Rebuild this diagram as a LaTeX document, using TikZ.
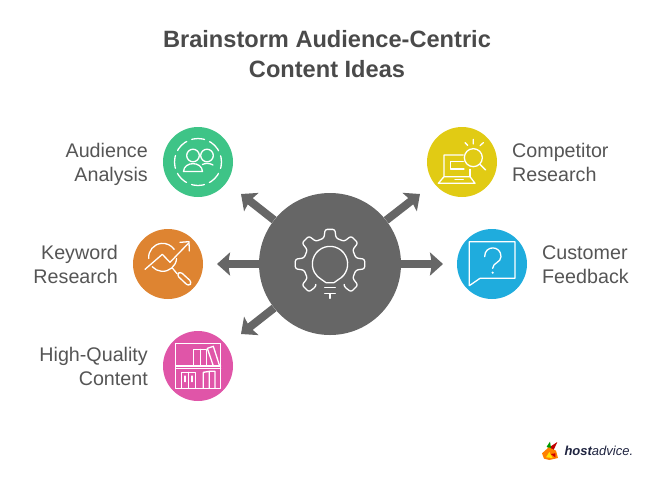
\documentclass[tikz,border=0pt]{standalone}
\usepackage{fontspec}
\setmainfont{Liberation Sans}
\usetikzlibrary{arrows.meta}
\definecolor{hubgray}{HTML}{666666}
\definecolor{titlegray}{HTML}{4A4A4A}
\definecolor{labelgray}{HTML}{555555}
\definecolor{cgreen}{HTML}{3EC487}
\definecolor{corange}{HTML}{DE8431}
\definecolor{cpink}{HTML}{E055A8}
\definecolor{cyellow}{HTML}{E1CB14}
\definecolor{cblue}{HTML}{1FACDD}
\definecolor{logonavy}{HTML}{1F2440}
\tikzset{
  disc/.style={circle,minimum size=70pt,inner sep=0pt,fill=#1},
  hubdisc/.style={circle,minimum size=142pt,inner sep=0pt,fill=hubgray},
  spoke/.style={draw=hubgray,line width=8pt,-{Stealth[length=13pt,width=23pt,inset=2pt]}},
  lbl/.style={font=\fontsize{19.7}{24}\selectfont,text=labelgray,inner sep=0pt},
  ttl/.style={font=\fontsize{23.6}{30}\selectfont\bfseries,text=titlegray,align=center,inner sep=0pt},
  icon/.style={draw=white,line width=1.3pt,line join=round,line cap=round},
  zoomed/.style={x=0.3333pt,y=-0.3333pt},
}
\begin{document}
\begin{tikzpicture}[x=1pt,y=-1pt]
\useasboundingbox (0,0) rectangle (672,483);
\node[ttl] (title) at (327,54) {Brainstorm Audience-Centric\\Content Ideas};
\node[hubdisc] (hub) at (330,264) {};
\node[disc=cgreen] (aud) at (198,162) {};
\node[disc=corange] (key) at (168,264) {};
\node[disc=cpink] (hq) at (198,366) {};
\node[disc=cyellow] (comp) at (462,162) {};
\node[disc=cblue] (cust) at (492,264) {};
\coordinate (tUL) at (241,194);
\coordinate (tL) at (217,264);
\coordinate (tLL) at (241,334);
\coordinate (tUR) at (420,194);
\coordinate (tR) at (443,264);
\draw[spoke] (hub) -- (tUL);
\draw[spoke] (hub) -- (tL);
\draw[spoke] (hub) -- (tLL);
\draw[spoke] (hub) -- (tUR);
\draw[spoke] (hub) -- (tR);
\node[lbl,align=right,anchor=east] (laud) at (148,165) {\strut Audience\\\strut Analysis};
\node[lbl,align=right,anchor=east] (lkey) at (118,267) {\strut Keyword\\\strut Research};
\node[lbl,align=right,anchor=east] (lhq) at (148,369) {\strut High-Quality\\\strut Content};
\node[lbl,align=left,anchor=west] (lcomp) at (512,165) {\strut Competitor\\\strut Research};
\node[lbl,align=left,anchor=west] (lcust) at (542,267) {\strut Customer\\\strut Feedback};
% gear icon
\begin{scope}[shift={(330,264)},x=0.3333pt,y=0.3333pt]
\draw[icon,rounded corners=2.2pt] (-57:78)
  \foreach \a in {-45,0,45,90,135,180,225} { -- (\a-13:80) -- (\a-8:105) -- (\a+8:105) -- (\a+13:80) } -- (237:78);
\draw[icon] (-62:53) arc (-62:242:53) -- (-12,-56) -- (12,-56) -- cycle;
\draw[icon] (-16,-71) -- (16,-71);
\draw[icon] (-16,-89) -- (16,-89) (0,-89) -- (0,-103);
\end{scope}
% audience icon
\begin{scope}[shift={(198,162)}]
\draw[icon,dash pattern=on 13pt off 5.456pt,dash phase=6.5pt] (0,0) circle (23.5);
\draw[icon] (-5,-6.5) circle (6.3);
\draw[icon] (9,-6.5) circle (6.3);
\draw[icon] (-14.5,9.5) .. controls (-14,-1) and (4,-1) .. (4.5,9.5) -- cycle;
\draw[icon] (4.5,2.5) .. controls (7,1) and (12,1) .. (15,3);
\end{scope}
% keyword icon
\begin{scope}[shift={(130,225)},zoomed]
\draw[icon] ([shift={(98,97)}]-185:42) arc (-185:-35:42);
\draw[icon] ([shift={(98,97)}]5:42) arc (5:138:42);
\draw[icon] (45,133) -- (97,88) -- (120,112) -- (175,55);
\draw[icon] (150,52) -- (177,50) -- (178,78);
\draw[icon] (128,130) -- (141,146);
\draw[icon,rounded corners=3pt] (140,150) -- (150,139) -- (186,172) -- (176,184) -- cycle;
\end{scope}
% high quality content icon
\begin{scope}[shift={(150,300)},zoomed]
\draw[icon] (77,130) rectangle (212,265);
\draw[icon] (77,198) -- (212,198) (77,205) -- (212,205);
\draw[icon] (130,198) -- (130,148) -- (170,148) -- (170,198) (152,148) -- (152,198);
\draw[icon] (190,198) -- (172,145) -- (190,139) -- (208,195);
\draw[icon] (95,265) -- (95,217) -- (137,217) -- (137,265) (115,217) -- (115,265);
\draw[icon] (105,228) -- (105,245) (126,228) -- (126,245);
\draw[icon] (160,265) -- (160,217) -- (178,214) -- (195,214) -- (195,265) (178,214) -- (178,265);
\end{scope}
% competitor icon
\begin{scope}[shift={(420,120)},zoomed]
\draw[icon] (160,113) circle (27);
\draw[icon] (180,133) -- (197,150);
\draw[icon] (135,68) -- (143,76) (160,58) -- (160,72) (190,68) -- (180,77);
\draw[icon] (130,105) -- (72,105) -- (72,170) -- (55,190) -- (165,190) -- (150,170) -- (72,170);
\draw[icon] (150,170) -- (150,148);
\draw[icon] (130,125) -- (92,125) -- (92,147) -- (132,147);
\draw[icon] (105,179) -- (130,179);
\end{scope}
% customer icon
\begin{scope}[shift={(420,120)},zoomed]
\draw[icon] (148,365) -- (285,365) -- (285,475) -- (180,475) -- (148,497) -- cycle;
\draw[icon] (194,410) .. controls (194,375) and (243,375) .. (243,410) .. controls (243,428) and (218,428) .. (218,445);
\fill[white] (218,458) circle (1.2pt);
\end{scope}
% logo
\begin{scope}[shift={(530,430)},zoomed]
\fill[red!75!black] (58,52) -- (82,36) -- (70,62) -- cycle;
\fill[green!60!black] (50,50) -- (60,35) -- (64,60) -- cycle;
\fill[orange] (36,70) -- (56,52) -- (78,62) -- (84,84) -- (58,90) -- (42,86) -- cycle;
\fill[yellow!85!orange] (48,82) -- (58,66) -- (68,84) -- cycle;
\fill[red!80!black] (62,72) -- (76,70) -- (76,82) -- cycle;
\node[anchor=base west,inner sep=0pt,text=logonavy,font=\fontsize{13}{14}\selectfont\itshape] (logo) at (103,77) {\textbf{host}advice.};
\end{scope}
\end{tikzpicture}
\end{document}
